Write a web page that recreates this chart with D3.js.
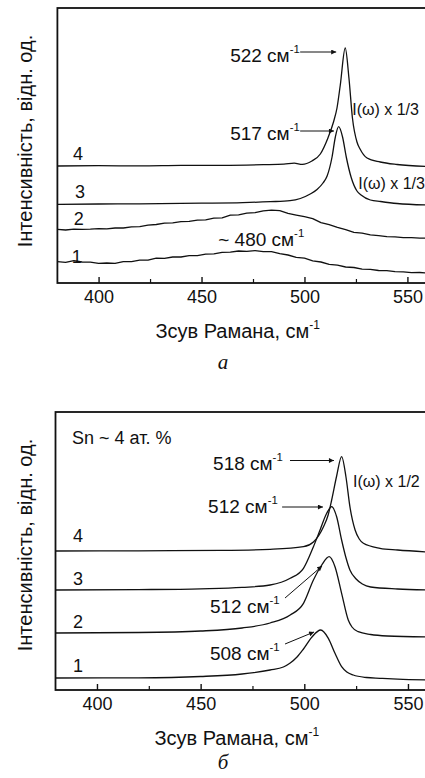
<!DOCTYPE html>
<html>
<head>
<meta charset="utf-8">
<script src="https://cdn.jsdelivr.net/npm/d3@7"></script>
<style>
body { margin: 0; background: #fff; }
svg text { font-family: "Liberation Sans", Arial, sans-serif; fill: #111; }
</style>
</head>
<body>
<svg id="chart" width="425" height="778"></svg>
<script>
// Raman shift axis, cm-1
const xDomain = [380, 560];
const majorTicks = [400, 450, 500, 550];
const minorTicks = [425, 475, 525];

// panel a: spectra 1..4, [shift, intensity a.u.] (stacked as in the figure)
const a1 = [[380,21.3],[384,20.6],[388,22.4],[392,21.0],[396,20.8],[400,19.7],[404,20.0],[408,19.6],[412,21.3],[416,21.4],
  [420,22.8],[424,22.9],[428,24.8],[432,24.7],[436,26.0],[440,26.0],[444,27.3],[448,27.4],[452,28.8],[456,29.2],
  [460,30.6],[464,30.8],[468,32.0],[472,31.7],[476,32.4],[480,31.4],[484,31.3],[488,29.3],[492,28.0],[496,25.7],
  [500,24.8],[504,22.2],[508,21.0],[512,18.7],[516,17.8],[520,16.0],[524,15.5],[528,13.9],[532,13.7],[536,12.5],
  [540,12.4],[544,11.4],[548,11.2],[552,10.4],[556,10.5],[560,9.8]];
const a2 = [[380,53.7],[384,53.0],[388,53.8],[392,53.6],[396,53.9],[400,54.4],[404,54.2],[408,55.0],[412,55.0],[416,56.1],
  [420,56.3],[424,57.8],[428,58.5],[432,59.8],[436,60.2],[440,61.3],[444,61.6],[448,62.9],[452,63.2],[456,64.8],
  [460,65.2],[464,67.8],[468,68.2],[472,69.9],[476,70.3],[480,72.2],[484,72.8],[488,72.3],[492,69.6],[496,67.9],
  [500,66.3],[504,64.4],[508,60.3],[512,58.4],[516,55.7],[520,53.4],[524,50.6],[528,49.8],[532,48.2],[536,47.4],
  [540,46.3],[544,46.1],[548,45.3],[552,45.4],[556,44.8],[560,44.9]];
const a3 = [[380,78.7],[400,79],[420,79.2],[450,79.8],[470,80.4],[483.4,81.3],[493,82.3],[498,84.5],[502.8,89],[506.1,93.5],
  [509,100],[511,107],[513.4,126],[515,146],[516.6,156.3],[518.5,146],[520.3,126],[522.7,105.5],[525.5,92],[527.5,88],
  [532,83],[537,81.5],[545,79.5],[560,78]];
const a4 = [[380,117],[400,117.3],[420,117.1],[440,117.6],[460,117.7],[480,118.3],[490,118.8],[495,119.8],[499,118.6],
  [503.6,122],[507.7,129],[511.4,145],[514.1,161],[515.8,175],[517.4,198],[519.8,235],[521.6,205],[523.3,165],
  [525.5,141],[527,134],[530.4,125],[536.8,121],[545,118.5],[560,116.5]];

// panel б: Sn ~ 4 at.%
const b1 = [[380,12],[420,12.2],[450,13.5],[470,16],[483.5,20],[489.9,23],[493.2,27],[496.5,33],[499.6,41],[503.7,53],
  [507.9,60],[511.6,51.7],[514.8,36.7],[518,23.3],[520.5,18],[523.6,15],[530,12.5],[536.5,11.7],[545,10.8],[560,10]];
const b2 = [[380,57],[420,57.5],[450,59],[470,62],[483.5,67],[493.2,75],[499.6,86.7],[504.4,110],[508.4,125],[512,133.3],
  [514.8,123.3],[518,96.7],[521.2,70],[523,63],[526,58.3],[532,55.5],[540,54],[560,53]];
const b3 = [[380,100],[420,100.4],[450,101.2],[470,102.6],[483.5,105],[493.2,111.7],[499.6,121.7],[504.4,143.3],[507.6,160],
  [510.8,176.7],[513.2,183.3],[515.6,173.3],[518,150],[520,133],[522,120],[525,111],[528,106],[532,103],[545,101],[560,100]];
const b4 = [[380,139],[420,139.2],[460,139.6],[483.5,140.7],[499.6,143.3],[504.4,148],[509.2,163],[511.5,175],[513.2,190],
  [515.6,214],[518,233.3],[520.1,213],[522,183.3],[524.5,160],[526.5,151],[528.5,146.7],[536.5,141.7],[545,140],[560,138]];

const curveNames = ["1", "2", "3", "4"];

const svg = d3.select("#chart");

svg.append("defs").append("marker")
  .attr("id", "head")
  .attr("viewBox", "0 0 10 10")
  .attr("refX", 10).attr("refY", 5)
  .attr("markerUnits", "userSpaceOnUse")
  .attr("markerWidth", 8).attr("markerHeight", 5)
  .attr("orient", "auto")
  .append("path").attr("d", "M0,0L10,5L0,10z").attr("fill", "#111");

// text with a "-1" superscript after it
function supText(g, x, y, main, sup, size) {
  const t = g.append("text").attr("x", x).attr("y", y).attr("font-size", size);
  t.append("tspan").text(main);
  if (sup) t.append("tspan").attr("font-size", size * 0.6).attr("dy", -size * 0.45).text(sup);
  return t;
}

function drawPanel(p) {
  const x = d3.scaleLinear().domain(xDomain).range([p.left, p.right]);
  const y = d3.scaleLinear().domain([0, p.yMax]).range([p.bottom, p.top]);
  const g = svg.append("g");

  // spectra
  const line = d3.line().x(d => x(d[0])).y(d => y(d[1]));
  p.series.forEach((s, i) => {
    g.append("path")
      .attr("d", line.curve(p.smooth[i] ? d3.curveMonotoneX : d3.curveLinear)(s))
      .attr("fill", "none").attr("stroke", "#111")
      .attr("stroke-width", 1.3).attr("stroke-linejoin", "round");
  });

  // inward ticks
  const ax = g.append("g").attr("transform", "translate(0," + p.bottom + ")")
    .call(d3.axisBottom(x).tickValues(majorTicks).tickSizeInner(-6).tickSizeOuter(0).tickPadding(7));
  ax.select(".domain").remove();
  ax.selectAll("line").attr("stroke", "#111").attr("stroke-width", 1.4);
  ax.selectAll("text").attr("font-size", 18).attr("fill", "#111")
    .style("font-family", '"Liberation Sans", Arial, sans-serif');
  const mx = g.append("g").attr("transform", "translate(0," + p.bottom + ")")
    .call(d3.axisBottom(x).tickValues(minorTicks).tickSizeInner(-4).tickSizeOuter(0).tickFormat(""));
  mx.select(".domain").remove();
  mx.selectAll("line").attr("stroke", "#111").attr("stroke-width", 1.2);

  // frame
  g.append("rect")
    .attr("x", x(xDomain[0])).attr("y", p.top)
    .attr("width", x(xDomain[1]) - x(xDomain[0])).attr("height", p.bottom - p.top)
    .attr("fill", "none").attr("stroke", "#111").attr("stroke-width", 1.8);

  // curve numbers
  curveNames.forEach((n, i) => {
    g.append("text").attr("x", x(p.nameAt[i][0])).attr("y", y(p.nameAt[i][1]))
      .attr("font-size", 18).text(n);
  });

  // peak notes
  p.notes.forEach(n => supText(g, x(n.at[0]), y(n.at[1]), n.text, n.sup, n.size));
  p.arrows.forEach(a => {
    g.append("line")
      .attr("x1", x(a[0])).attr("y1", y(a[1])).attr("x2", x(a[2])).attr("y2", y(a[3]))
      .attr("stroke", "#111").attr("stroke-width", 1).attr("marker-end", "url(#head)");
  });

  // axis titles and caption
  const xt = supText(g, 0, p.bottom + 55, "Зсув Рамана, см", "-1", 20);
  xt.attr("x", (p.left + 428) / 2 - 5).attr("text-anchor", "middle");
  g.append("text")
    .attr("transform", "translate(32," + (p.top + 133) + ") rotate(-90)")
    .attr("text-anchor", "middle").attr("font-size", 20)
    .text("Інтенсивність, відн. од.");
  g.append("text").attr("x", 223).attr("y", p.bottom + p.captionDy)
    .attr("text-anchor", "middle").attr("font-size", 21)
    .style("font-family", '"Liberation Serif", "DejaVu Serif", serif').style("font-style", "italic")
    .text(p.caption);
}

drawPanel({
  left: 57.4, right: 428, top: 8, bottom: 283, yMax: 275,
  series: [a1, a2, a3, a4], smooth: [false, false, true, true],
  nameAt: [[387, 20], [388, 58], [388.6, 85], [387.6, 123]],
  notes: [
    { at: [463.9, 221.3], text: "522 см", sup: "-1", size: 19 },
    { at: [463.9, 143], text: "517 см", sup: "-1", size: 19 },
    { at: [523.2, 168], text: "I(ω) x 1/3", size: 16 },
    { at: [526.1, 94], text: "I(ω) x 1/3", size: 16 },
    { at: [458.1, 37], text: "~ 480 см", sup: "-1", size: 19 }
  ],
  arrows: [[497.9, 231, 515.4, 231], [497.9, 152, 514.3, 152]],
  caption: "a", captionDy: 86
});

drawPanel({
  left: 55.5, right: 428.7, top: 412, bottom: 690, yMax: 278,
  series: [b1, b2, b3, b4], smooth: [true, true, true, true],
  nameAt: [[388.4, 18], [388.4, 62], [388.4, 105], [388.4, 148]],
  notes: [
    { at: [388, 246], text: "Sn ~ 4 ат. %", size: 18 },
    { at: [456, 220], text: "518 см", sup: "-1", size: 19 },
    { at: [523.5, 203], text: "I(ω) x 1/2", size: 16 },
    { at: [453.6, 177], text: "512 см", sup: "-1", size: 19 },
    { at: [454.5, 77], text: "512 см", sup: "-1", size: 19 },
    { at: [454.5, 30], text: "508 см", sup: "-1", size: 19 }
  ],
  arrows: [[493.1, 229.5, 514.3, 229.5], [489.3, 183, 509, 183], [490.7, 92, 508.6, 124], [490.7, 46, 504.7, 58]],
  caption: "б", captionDy: 79
});
</script>
</body>
</html>
